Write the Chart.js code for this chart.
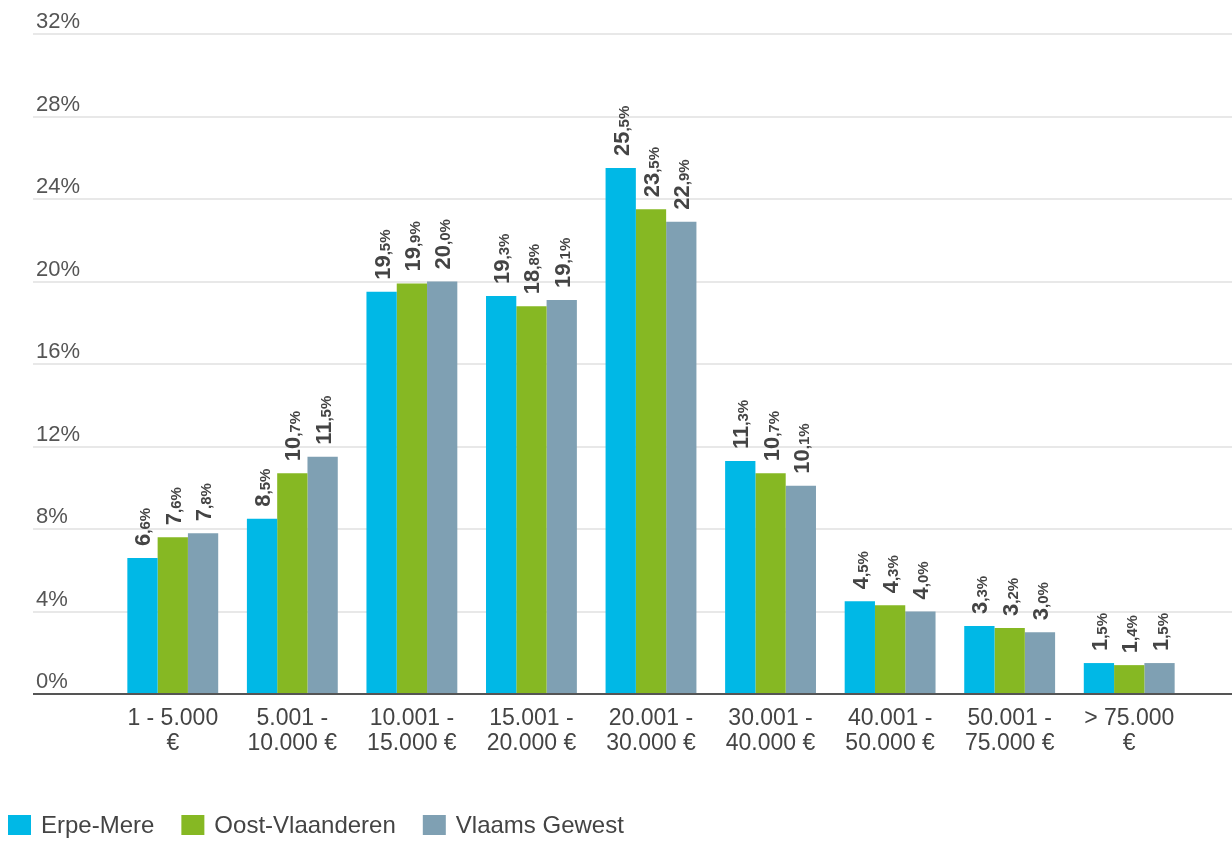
<!DOCTYPE html>
<html>
<head>
<meta charset="utf-8">
<script src="https://cdn.jsdelivr.net/npm/chart.js@4"></script>
<style>
  html, body { margin: 0; padding: 0; background: #fff; }
  #wrap { width: 1232px; height: 841px; }
</style>
</head>
<body>
<div id="wrap"><canvas id="myChart"></canvas></div>
<script>
// chart data
var categories = [
  ['1 - 5.000', '€'],
  ['5.001 -', '10.000 €'],
  ['10.001 -', '15.000 €'],
  ['15.001 -', '20.000 €'],
  ['20.001 -', '30.000 €'],
  ['30.001 -', '40.000 €'],
  ['40.001 -', '50.000 €'],
  ['50.001 -', '75.000 €'],
  ['> 75.000', '€']
];
var erpeMere = [6.6, 8.5, 19.5, 19.3, 25.5, 11.3, 4.5, 3.3, 1.5];
var oostVlaanderen = [7.6, 10.7, 19.9, 18.8, 23.5, 10.7, 4.3, 3.2, 1.4];
var vlaamsGewest = [7.8, 11.5, 20.0, 19.1, 22.9, 10.1, 4.0, 3.0, 1.5];
var seriesNames = ['Erpe-Mere', 'Oost-Vlaanderen', 'Vlaams Gewest'];
var yTicks = [0, 4, 8, 12, 16, 20, 24, 28, 32];

var FONT = "'Liberation Sans', Arial, sans-serif";
Chart.defaults.font.family = FONT;

function gridColor(c) {
  return c.tick && c.tick.value === 0 ? '#555555' : '#e8e8e8';
}
function setTicks(scale) {
  scale.ticks = yTicks.map(function(v) { return { value: v }; });
}

// rotated value labels: bold integer part, smaller decimals
var barLabels = {
  id: 'barLabels',
  afterDatasetsDraw: function(chart) {
    var ctx = chart.ctx;
    chart.data.datasets.forEach(function(ds, i) {
      chart.getDatasetMeta(i).data.forEach(function(bar, j) {
        var parts = ds.data[j].toFixed(1).split('.');
        ctx.save();
        ctx.translate(bar.x + 8, bar.y - 12);
        ctx.rotate(-Math.PI / 2);
        ctx.fillStyle = '#444';
        ctx.textAlign = 'left';
        ctx.textBaseline = 'alphabetic';
        ctx.font = 'bold 22px ' + FONT;
        ctx.fillText(parts[0], 0, 0);
        var w = ctx.measureText(parts[0]).width;
        ctx.font = 'bold 15px ' + FONT;
        ctx.fillText(',' + parts[1] + '%', w, 0);
        ctx.restore();
      });
    });
  }
};

// legend in the bottom left corner
var bottomLegend = {
  id: 'bottomLegend',
  afterDraw: function(chart) {
    var ctx = chart.ctx;
    var x = 8, y = 825;
    ctx.save();
    ctx.font = '24px ' + FONT;
    ctx.textBaseline = 'middle';
    ctx.textAlign = 'left';
    chart.data.datasets.forEach(function(ds) {
      ctx.fillStyle = ds.backgroundColor;
      ctx.fillRect(x, y - 10, 23, 20);
      ctx.fillStyle = '#444';
      ctx.fillText(ds.label, x + 33, y + 1);
      x += 33 + ctx.measureText(ds.label).width + 27;
    });
    ctx.restore();
  }
};

var ctx = document.getElementById('myChart').getContext('2d');
var myChart = new Chart(ctx, {
  type: 'bar',
  data: {
    labels: categories,
    datasets: [
      { label: seriesNames[0], data: erpeMere, backgroundColor: '#00b8e6' },
      { label: seriesNames[1], data: oostVlaanderen, backgroundColor: '#86b823' },
      { label: seriesNames[2], data: vlaamsGewest, backgroundColor: '#7fa0b3' }
    ]
  },
  options: {
    responsive: true,
    maintainAspectRatio: false,
    animation: false,
    categoryPercentage: 0.76,
    barPercentage: 1,
    layout: { padding: { left: 36, right: 0, top: 34, bottom: 77 } },
    plugins: {
      legend: { display: false },
      tooltip: { enabled: false }
    },
    scales: {
      x: {
        grid: { display: false, drawTicks: false },
        border: { display: false },
        afterFit: function(s) { s.height = 70; },
        ticks: {
          color: '#444',
          padding: 12,
          maxRotation: 0,
          autoSkip: false,
          font: { size: 23, lineHeight: 1.1 }
        }
      },
      y: {
        min: 0,
        max: 32,
        afterBuildTicks: setTicks,
        afterFit: function(s) { s.width = 77; },
        border: { display: false },
        grid: { color: gridColor, lineWidth: 2, tickLength: 80 },
        ticks: {
          callback: function(v) { return v + '%'; },
          crossAlign: 'far',
          labelOffset: -12,
          padding: 0,
          color: '#555',
          font: { size: 22 }
        }
      },
      y2: {
        position: 'right',
        min: 0,
        max: 32,
        afterBuildTicks: setTicks,
        afterFit: function(s) { s.width = 43; },
        border: { display: false },
        grid: { drawOnChartArea: false, color: gridColor, lineWidth: 2, tickLength: 44 },
        ticks: { display: false }
      }
    }
  },
  plugins: [barLabels, bottomLegend]
});
</script>
</body>
</html>
